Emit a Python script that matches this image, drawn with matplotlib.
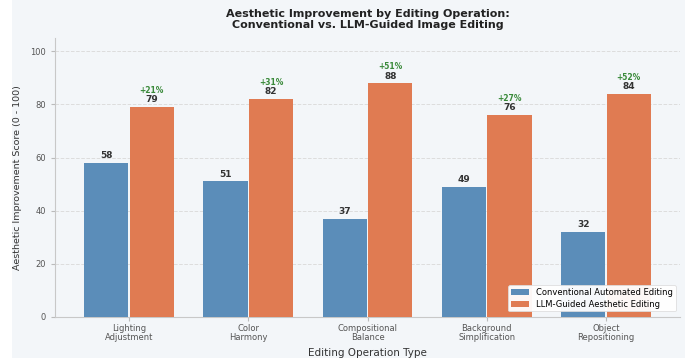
import numpy as np
import matplotlib.pyplot as plt
from matplotlib.patches import Rectangle

# data
categories = ['Lighting\nAdjustment', 'Color\nHarmony', 'Compositional\nBalance',
              'Background\nSimplification', 'Object\nRepositioning']
conventional = [58, 51, 37, 49, 32]
llm_guided = [79, 82, 88, 76, 84]

bg = '#f3f6f9'
fig = plt.figure(figsize=(6.99, 3.58), dpi=100, facecolor='white')
fig.patches.append(Rectangle((12 / 699, 0), (685 - 12) / 699, 1, transform=fig.transFigure,
                             facecolor=bg, edgecolor='none', zorder=-10))
ax = fig.add_axes([55 / 699, (358 - 317) / 358, (680 - 55) / 699, (317 - 38) / 358])
ax.set_facecolor(bg)

x = np.arange(len(categories))
w = 0.37
b1 = ax.bar(x - w / 2 - 0.006, conventional, w, color='#5b8db9', label='Conventional Automated Editing', zorder=3)
b2 = ax.bar(x + w / 2 + 0.006, llm_guided, w, color='#e07b52', label='LLM-Guided Aesthetic Editing', zorder=3)

for r, v in zip(b1, conventional):
    ax.text(r.get_x() + r.get_width() / 2, v + 1, str(v), ha='center', va='bottom',
            fontsize=6.5, fontweight='bold', color='#333333')
for r, v, c in zip(b2, llm_guided, conventional):
    ax.text(r.get_x() + r.get_width() / 2, v + 1, str(v), ha='center', va='bottom',
            fontsize=6.5, fontweight='bold', color='#333333')
    ax.text(r.get_x() + r.get_width() / 2, v + 4.6, f'+{v - c}%', ha='center', va='bottom',
            fontsize=5.5, fontweight='bold', color='#3a8a3a')

ax.set_xlim(-0.62, 4.62)
ax.set_ylim(0, 105)
ax.set_xticks(x)
ax.set_xticklabels(categories, fontsize=6, color='#555555', linespacing=1.0)
ax.set_yticks([0, 20, 40, 60, 80, 100])
ax.tick_params(axis='y', labelsize=6, colors='#555555', length=3, color='#bbbbbb')
ax.tick_params(axis='x', length=3, color='#bbbbbb', pad=2)
ax.grid(axis='y', linestyle='--', color='#dddddd', linewidth=0.7, zorder=0)
for s in ['top', 'right']:
    ax.spines[s].set_visible(False)
for s in ['left', 'bottom']:
    ax.spines[s].set_color('#c8c8c8')
    ax.spines[s].set_linewidth(0.8)

ax.set_xlabel('Editing Operation Type', fontsize=7.5, color='#333333', labelpad=4)
ax.set_ylabel('Aesthetic Improvement Score (0 - 100)', fontsize=6.8, color='#333333', labelpad=6)
ax.set_title('Aesthetic Improvement by Editing Operation:\nConventional vs. LLM-Guided Image Editing',
             fontsize=8, fontweight='bold', color='#222222', linespacing=1.1, pad=7)

leg = ax.legend(loc='lower right', fontsize=6, frameon=True, framealpha=0.95,
                edgecolor='#dddddd', borderpad=0.35, labelspacing=0.3, handlelength=2.2,
                bbox_to_anchor=(1.0, 0.005))
leg.get_frame().set_facecolor('white')
leg.get_frame().set_linewidth(0.6)

fig.savefig('out.png', dpi=100, facecolor=fig.get_facecolor())
